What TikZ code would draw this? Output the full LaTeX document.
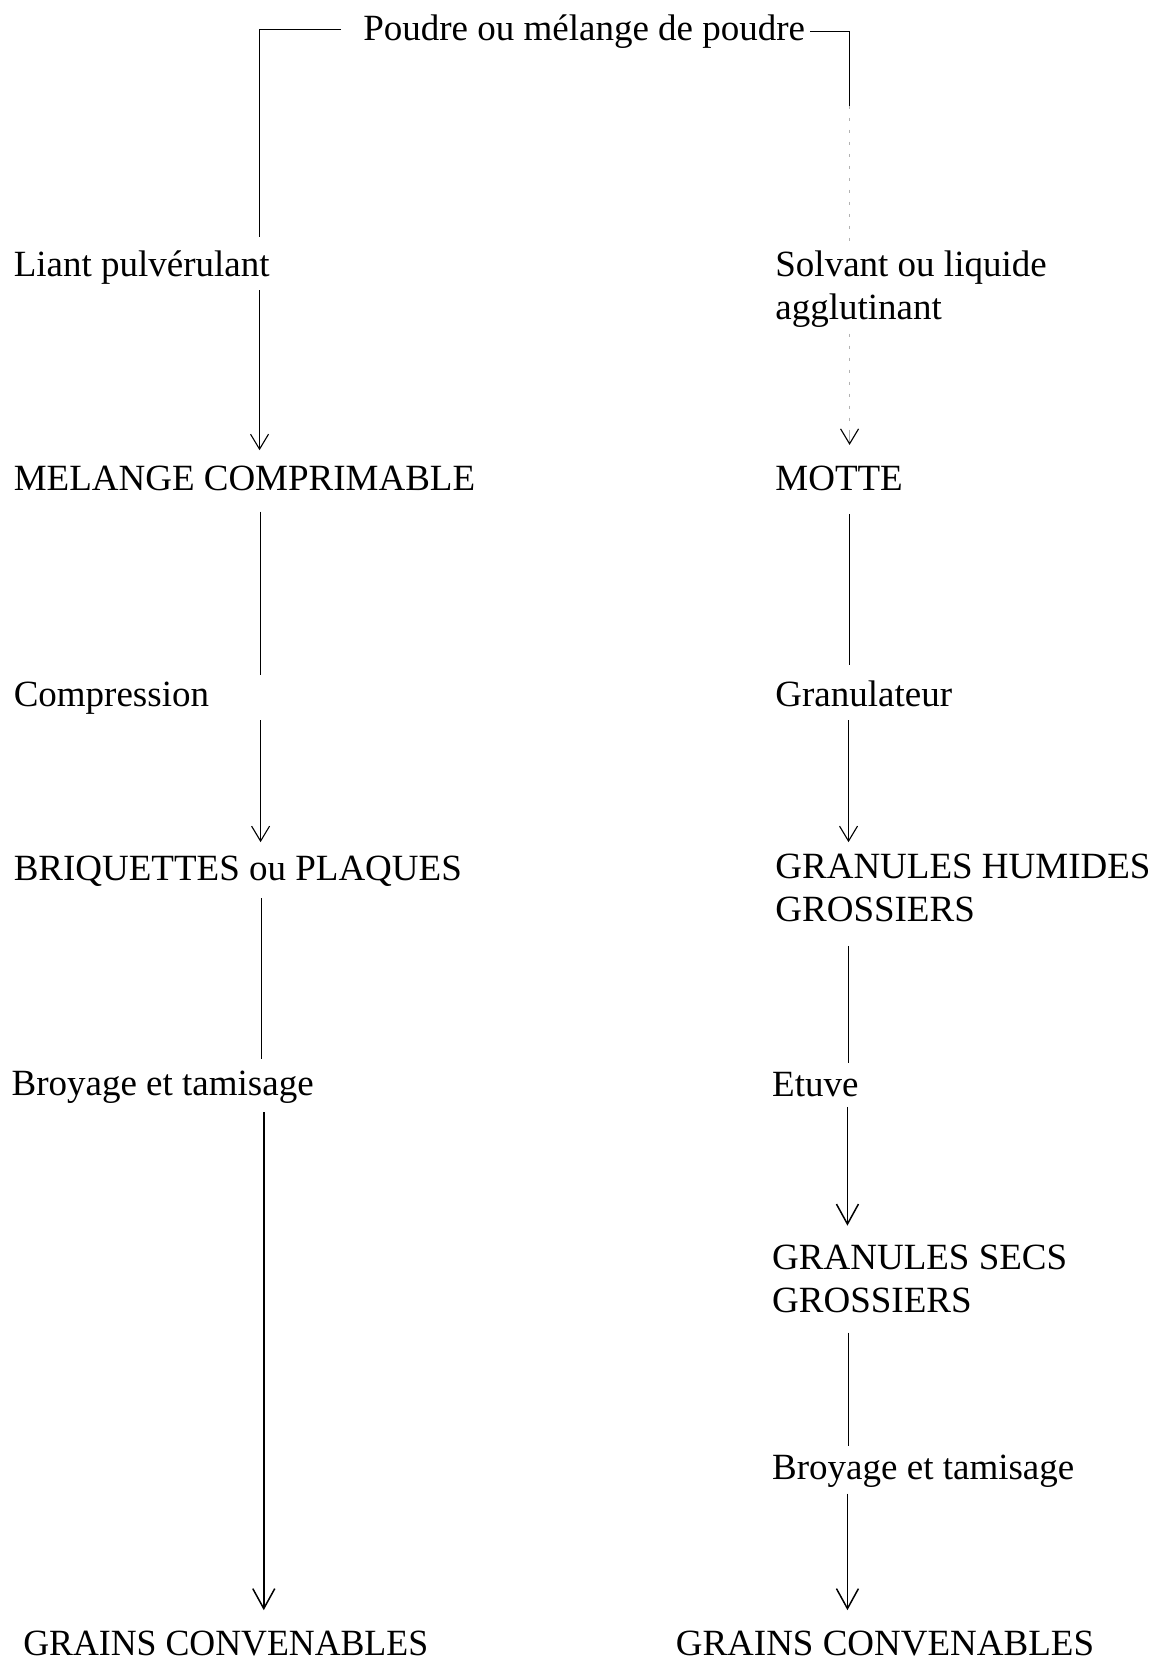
\documentclass[tikz,border=0pt]{standalone}
\usepackage{fontspec}
\setmainfont{Liberation Serif}
\usetikzlibrary{arrows.meta}
\tikzset{
  lbl/.style={anchor=base west, inner sep=0pt, outer sep=0pt, font=\fontsize{37pt}{43pt}\selectfont},
  ln/.style={line width=1.1pt, black},
  faint/.style={line width=0.9pt, black!30, dash pattern=on 3pt off 9pt},
  smallarr/.style={-{Straight Barb[length=15pt, width=18pt, line width=1.1pt, color=black]}},
  bigarr/.style={line width=1.5pt, -{Straight Barb[length=20pt, width=22pt, line width=1.5pt]}},
}
\begin{document}
\begin{tikzpicture}[x=1.0594pt, y=-1.0594pt]
\useasboundingbox (0,0) rectangle (1095,1568);
\fill[white] (0,0) rectangle (1095,1568);

% ---- texts ----
\node[lbl] (top) at (343,38) {Poudre ou mélange de poudre};

\node[lbl] (liant) at (13,261) {Liant pulvérulant};
\node[lbl] (melange) at (13,463.5) {MELANGE COMPRIMABLE};
\node[lbl] (compr) at (13,667) {Compression};
\node[lbl] (briq) at (13,831.5) {BRIQUETTES ou PLAQUES};
\node[lbl] (broyL) at (11,1034) {Broyage et tamisage};
\node[lbl, xscale=0.968] (grainsL) at (22,1563) {GRAINS CONVENABLES};

\node[lbl] (solv) at (732,261) {\begin{tabular}[t]{@{}l@{}}Solvant ou liquide\\agglutinant\end{tabular}};
\node[lbl] (motte) at (732,463.5) {MOTTE};
\node[lbl] (granul) at (732,667) {Granulateur};
\node[lbl] (ghum) at (732,829.5) {\begin{tabular}[t]{@{}l@{}}GRANULES HUMIDES\\GROSSIERS\end{tabular}};
\node[lbl] (etuve) at (729,1035) {Etuve};
\node[lbl] (gsec) at (729,1198.5) {\begin{tabular}[t]{@{}l@{}}GRANULES SECS\\GROSSIERS\end{tabular}};
\node[lbl] (broyR) at (729,1397) {Broyage et tamisage};
\node[lbl] (grainsR) at (638,1563) {GRAINS CONVENABLES};

% ---- connector points ----
\coordinate (tl) at (322,28);
\coordinate (tlc) at (245,28);
\coordinate (a1) at (245,224);
\coordinate (a2) at (245,274);
\coordinate (a3) at (245,425);
\coordinate (b1) at (246,483);
\coordinate (b2) at (246,637);
\coordinate (b3) at (246,680);
\coordinate (b4) at (246,795);
\coordinate (c1) at (247,848);
\coordinate (c2) at (247,1000);
\coordinate (c3) at (249,1050);
\coordinate (c4) at (249,1520);

\coordinate (tr) at (765,30);
\coordinate (trc) at (802,30);
\coordinate (r1) at (802,100);
\coordinate (r2) at (802,232);
\coordinate (r3) at (802,315);
\coordinate (r35) at (802,406);
\coordinate (r4) at (802,420);
\coordinate (s1) at (802,485);
\coordinate (s2) at (802,628);
\coordinate (s3) at (801,680);
\coordinate (s4) at (801,795);
\coordinate (u1) at (801,893);
\coordinate (u2) at (801,1003);
\coordinate (u3) at (800,1045);
\coordinate (u4) at (800,1157);
\coordinate (v1) at (801,1258);
\coordinate (v2) at (801,1365);
\coordinate (v3) at (800,1410);
\coordinate (v4) at (800,1520);

% ---- left column ----
\draw[ln] (tl) -- (tlc) -- (a1);
\draw[ln, smallarr] (a2) -- (a3);
\draw[ln] (b1) -- (b2);
\draw[ln, smallarr] (b3) -- (b4);
\draw[ln] (c1) -- (c2);
\draw[ln, bigarr] (c3) -- (c4);

% ---- right column ----
\draw[ln] (tr) -- (trc) -- (r1);
\draw[faint] (r1) -- (r2);
\draw[faint] (r3) -- (r35);
\draw[ln, draw=black!30, smallarr] (r35) -- (r4);
\draw[ln] (s1) -- (s2);
\draw[ln, smallarr] (s3) -- (s4);
\draw[ln] (u1) -- (u2);
\draw[ln, bigarr] (u3) -- (u4);
\draw[ln] (v1) -- (v2);
\draw[ln, bigarr] (v3) -- (v4);
\end{tikzpicture}
\end{document}
